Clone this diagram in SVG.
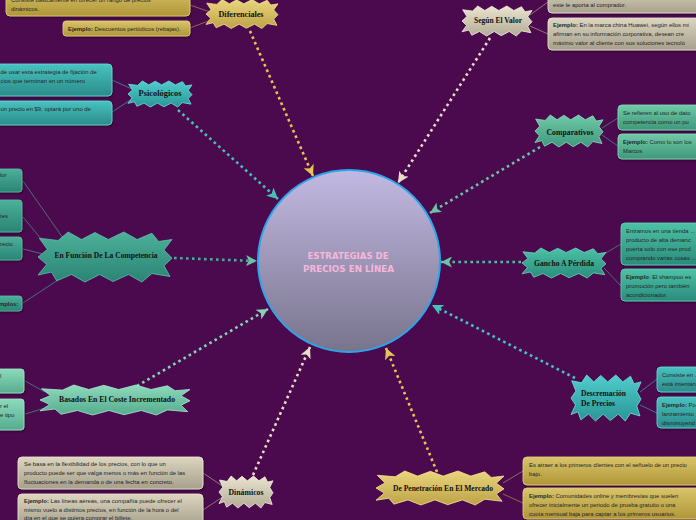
<svg xmlns="http://www.w3.org/2000/svg" width="696" height="520" viewBox="0 0 696 520">
<style>
.t{font-family:"Liberation Sans",Arial,sans-serif;font-size:5.9px;fill:#262626}
.b{font-weight:bold}
.nt{font-family:"Liberation Serif","Times New Roman",serif;font-weight:bold;font-size:7.6px;fill:#111;text-anchor:middle}
.ct{font-family:"DejaVu Sans",sans-serif;font-weight:bold;font-size:9.5px;fill:#f7b6da;text-anchor:middle}
.dot{fill:none;stroke-width:2.6;stroke-dasharray:2.6 3.4}
.ln{fill:none;stroke-width:0.8;opacity:0.8}
.box{stroke-width:0.8;filter:url(#sh)}
</style>
<defs>
<filter id="sh" x="-10%" y="-20%" width="120%" height="150%"><feDropShadow dx="0.8" dy="1.2" stdDeviation="0.8" flood-color="#000" flood-opacity="0.45"/></filter>
<path id="star" vector-effect="non-scaling-stroke" stroke-width="0.8" d="M-1,0 L-0.86,-0.3 L-0.98,-0.75 L-0.7,-0.66 L-0.55,-1 L-0.35,-0.7 L-0.15,-0.98 L0.05,-0.7 L0.28,-1 L0.48,-0.7 L0.7,-0.95 L0.8,-0.62 L1,-0.7 L0.88,-0.28 L1,0.05 L0.88,0.35 L0.97,0.78 L0.7,0.66 L0.55,1 L0.35,0.7 L0.12,0.98 L-0.08,0.7 L-0.3,1 L-0.5,0.7 L-0.72,0.95 L-0.8,0.6 L-1,0.72 L-0.87,0.3 Z"/>
<linearGradient id="gCircle" x1="0" y1="0" x2="0" y2="1"><stop offset="0" stop-color="#c2b9e2"/><stop offset="1" stop-color="#78748c"/></linearGradient>
<linearGradient id="gGold" x1="0" y1="0" x2="0" y2="1"><stop offset="0" stop-color="#ead67c"/><stop offset="1" stop-color="#bea246"/></linearGradient>
<linearGradient id="gGoldB" x1="0" y1="0" x2="0" y2="1"><stop offset="0" stop-color="#d8c46a"/><stop offset="1" stop-color="#b09638"/></linearGradient>
<linearGradient id="gBeige" x1="0" y1="0" x2="0" y2="1"><stop offset="0" stop-color="#ebe5d0"/><stop offset="1" stop-color="#b2ac96"/></linearGradient>
<linearGradient id="gBeigeB" x1="0" y1="0" x2="0" y2="1"><stop offset="0" stop-color="#dcd6c0"/><stop offset="1" stop-color="#a6a08c"/></linearGradient>
<linearGradient id="gTeal" x1="0" y1="0" x2="0" y2="1"><stop offset="0" stop-color="#50cccc"/><stop offset="1" stop-color="#2a9696"/></linearGradient>
<linearGradient id="gTealB" x1="0" y1="0" x2="0" y2="1"><stop offset="0" stop-color="#48c2c0"/><stop offset="1" stop-color="#2a8c8a"/></linearGradient>
<linearGradient id="gMint" x1="0" y1="0" x2="0" y2="1"><stop offset="0" stop-color="#70caa8"/><stop offset="1" stop-color="#3e987a"/></linearGradient>
<linearGradient id="gSea" x1="0" y1="0" x2="0" y2="1"><stop offset="0" stop-color="#4cb09a"/><stop offset="1" stop-color="#2a8474"/></linearGradient>
<linearGradient id="gGancho" x1="0" y1="0" x2="0" y2="1"><stop offset="0" stop-color="#4cc2a6"/><stop offset="1" stop-color="#2a8c7c"/></linearGradient>
<linearGradient id="gLight" x1="0" y1="0" x2="0" y2="1"><stop offset="0" stop-color="#8cdabc"/><stop offset="1" stop-color="#56ac8e"/></linearGradient>
<marker id="aGold" viewBox="0 0 10 10" refX="10" refY="5" markerWidth="11" markerHeight="11" markerUnits="userSpaceOnUse" orient="auto"><path d="M0,0 L10,5 L0,10 L2.5,5 Z" fill="#e2c652"/></marker>
<marker id="aBeige" viewBox="0 0 10 10" refX="10" refY="5" markerWidth="11" markerHeight="11" markerUnits="userSpaceOnUse" orient="auto"><path d="M0,0 L10,5 L0,10 L2.5,5 Z" fill="#e6dec6"/></marker>
<marker id="aTeal" viewBox="0 0 10 10" refX="10" refY="5" markerWidth="11" markerHeight="11" markerUnits="userSpaceOnUse" orient="auto"><path d="M0,0 L10,5 L0,10 L2.5,5 Z" fill="#46c2b6"/></marker>
<marker id="aMint" viewBox="0 0 10 10" refX="10" refY="5" markerWidth="11" markerHeight="11" markerUnits="userSpaceOnUse" orient="auto"><path d="M0,0 L10,5 L0,10 L2.5,5 Z" fill="#68c4a4"/></marker>
<marker id="aLight" viewBox="0 0 10 10" refX="10" refY="5" markerWidth="11" markerHeight="11" markerUnits="userSpaceOnUse" orient="auto"><path d="M0,0 L10,5 L0,10 L2.5,5 Z" fill="#84d4b4"/></marker>
</defs>
<rect width="696" height="520" fill="#4c0a4e"/>

<g id="connectors">
<line class="dot" x1="250" y1="31" x2="313" y2="176" stroke="#e2c652" marker-end="url(#aGold)"/>
<line class="dot" x1="490" y1="38" x2="398" y2="183" stroke="#e6dec6" marker-end="url(#aBeige)"/>
<line class="dot" x1="178" y1="110" x2="278" y2="199" stroke="#46c2b6" marker-end="url(#aTeal)"/>
<line class="dot" x1="540" y1="147" x2="430" y2="213" stroke="#68c4a4" marker-end="url(#aMint)"/>
<line class="dot" x1="174" y1="258" x2="257" y2="261" stroke="#40ae98" marker-end="url(#aMint)"/>
<line class="dot" x1="521" y1="262" x2="441" y2="262" stroke="#46c0a6" marker-end="url(#aMint)"/>
<line class="dot" x1="137" y1="386" x2="268" y2="309" stroke="#84d4b4" marker-end="url(#aLight)"/>
<line class="dot" x1="575" y1="378" x2="432" y2="305" stroke="#46c2c2" marker-end="url(#aTeal)"/>
<line class="dot" x1="253" y1="475" x2="310" y2="347" stroke="#e6dec6" marker-end="url(#aBeige)"/>
<line class="dot" x1="437" y1="472" x2="386" y2="348" stroke="#e2c652" marker-end="url(#aGold)"/>
<g stroke="#b8a050">
<line class="ln" x1="190" y1="5" x2="213" y2="13"/><line class="ln" x1="190" y1="28" x2="211" y2="20"/>
<line class="ln" x1="503" y1="483" x2="523" y2="471"/><line class="ln" x1="503" y1="494" x2="523" y2="503"/>
</g>
<g stroke="#b8b09a">
<line class="ln" x1="530" y1="15" x2="548" y2="2"/><line class="ln" x1="530" y1="26" x2="548" y2="34"/>
<line class="ln" x1="203" y1="473" x2="224" y2="487"/><line class="ln" x1="203" y1="510" x2="224" y2="496"/>
</g>
<g stroke="#48a8a8">
<line class="ln" x1="112" y1="80" x2="134" y2="90"/><line class="ln" x1="112" y1="112" x2="135" y2="97"/>
<line class="ln" x1="640" y1="392" x2="657" y2="379"/><line class="ln" x1="640" y1="405" x2="657" y2="413"/>
</g>
<g stroke="#4aa48c">
<line class="ln" x1="602" y1="128" x2="618" y2="118"/><line class="ln" x1="602" y1="135" x2="618" y2="146"/>
<line class="ln" x1="23" y1="181" x2="63" y2="238"/><line class="ln" x1="23" y1="217" x2="42" y2="240"/>
<line class="ln" x1="23" y1="249" x2="43" y2="254"/><line class="ln" x1="23" y1="303" x2="64" y2="276"/>
<line class="ln" x1="604" y1="254" x2="621" y2="244"/><line class="ln" x1="604" y1="268" x2="621" y2="286"/>
<line class="ln" x1="25" y1="381" x2="45" y2="392"/><line class="ln" x1="25" y1="414" x2="52" y2="406"/>
</g>
</g>

<g id="central">
<circle cx="349" cy="261" r="91" fill="url(#gCircle)" stroke="#2aa6ec" stroke-width="2"/>
<text class="ct" x="348" y="258.5" textLength="81" lengthAdjust="spacingAndGlyphs">ESTRATEGIAS DE</text>
<text class="ct" x="348.5" y="271.5" textLength="91" lengthAdjust="spacingAndGlyphs">PRECIOS EN LÍNEA</text>
</g>

<g id="diferenciales">
<rect class="box" x="6" y="-12" width="184" height="28" rx="4" fill="url(#gGoldB)" stroke="#e2d284"/>
<text class="t" x="11" y="2">Consiste básicamente en ofrecer un rango de precios</text>
<text class="t" x="11" y="10.5">dinámicos.</text>
<rect class="box" x="63" y="21" width="127" height="15" rx="3" fill="url(#gGoldB)" stroke="#e2d284"/>
<text class="t" x="68" y="31"><tspan class="b">Ejemplo:</tspan> Descuentos periódicos (rebajas).</text>
<use href="#star" transform="translate(242 14) scale(36 14.5)" fill="url(#gGold)" stroke="#f2e296"/>
<text class="nt" x="241" y="16.5" textLength="45" lengthAdjust="spacingAndGlyphs">Diferenciales</text>
</g>

<g id="segun-valor">
<rect class="box" x="548" y="-12" width="160" height="25" rx="4" fill="url(#gBeigeB)" stroke="#ece6d2"/>
<text class="t" x="553" y="7">este le aporta al comprador.</text>
<rect class="box" x="548" y="18" width="160" height="32" rx="4" fill="url(#gBeigeB)" stroke="#ece6d2"/>
<text class="t" x="553" y="27"><tspan class="b">Ejemplo:</tspan> En la marca china Huawei, según ellos mi</text>
<text class="t" x="553" y="36">afirman en su información corporativa, desean cre</text>
<text class="t" x="553" y="45">máximo valor al cliente con sus soluciones tecnoló</text>
<use href="#star" transform="translate(497 21) scale(35 15)" fill="url(#gBeige)" stroke="#f4f0e2"/>
<text class="nt" x="498" y="22.5" textLength="48" lengthAdjust="spacingAndGlyphs">Según El Valor</text>
</g>

<g id="psicologicos">
<rect class="box" x="-10" y="64" width="122" height="32" rx="4" fill="url(#gTealB)" stroke="#6adada"/>
<text class="t" x="0.5" y="74">de usar esta estrategia de fijación de</text>
<text class="t" x="0.5" y="83">cios que terminan en un número</text>
<rect class="box" x="-10" y="101" width="122" height="24" rx="4" fill="url(#gTealB)" stroke="#6adada"/>
<text class="t" x="0.5" y="111">un precio en $9, optará por uno de</text>
<use href="#star" transform="translate(160 94) scale(32 13)" fill="url(#gTeal)" stroke="#72e2e2"/>
<text class="nt" x="160" y="95.5" textLength="43" lengthAdjust="spacingAndGlyphs">Psicológicos</text>
</g>

<g id="comparativos">
<rect class="box" x="618" y="105" width="90" height="25" rx="4" fill="url(#gMint)" stroke="#88dcbc"/>
<text class="t" x="623" y="115">Se refieren al uso de dato</text>
<text class="t" x="623" y="124">competencia como un pu</text>
<rect class="box" x="618" y="134" width="90" height="25" rx="4" fill="url(#gMint)" stroke="#88dcbc"/>
<text class="t" x="623" y="144"><tspan class="b">Ejemplo:</tspan> Como lo son los</text>
<text class="t" x="623" y="153">Marcos</text>
<use href="#star" transform="translate(569 131) scale(34 16)" fill="url(#gMint)" stroke="#8ee0c0"/>
<text class="nt" x="570" y="134.5" textLength="47" lengthAdjust="spacingAndGlyphs">Comparativos</text>
</g>

<g id="competencia">
<rect class="box" x="-10" y="169" width="32" height="23" rx="3" fill="url(#gSea)" stroke="#5cbca6"/>
<text class="t" x="0" y="177">lor</text>
<rect class="box" x="-10" y="200" width="32" height="32" rx="3" fill="url(#gSea)" stroke="#5cbca6"/>
<text class="t" x="0" y="218">tes</text>
<rect class="box" x="-10" y="237" width="32" height="23" rx="3" fill="url(#gSea)" stroke="#5cbca6"/>
<text class="t" x="0" y="246">recio</text>
<rect class="box" x="-10" y="296" width="32" height="15" rx="3" fill="url(#gSea)" stroke="#5cbca6"/>
<text class="t b" x="-1" y="306">mplos:</text>
<use href="#star" transform="translate(105 257) scale(67 25)" fill="url(#gSea)" stroke="#5ec2aa"/>
<text class="nt" x="106" y="257.5" textLength="103" lengthAdjust="spacingAndGlyphs">En Función De La Competencia</text>
</g>

<g id="gancho">
<rect class="box" x="621" y="223" width="90" height="42" rx="4" fill="url(#gGancho)" stroke="#66d2b8"/>
<text class="t" x="626" y="233">Entramos en una tienda ...</text>
<text class="t" x="626" y="242">producto de alta demanc</text>
<text class="t" x="626" y="251">puerta solo con ese prod</text>
<text class="t" x="626" y="260">comprando varias cosas ...</text>
<rect class="box" x="621" y="269" width="90" height="32" rx="4" fill="url(#gGancho)" stroke="#66d2b8"/>
<text class="t" x="626" y="279"><tspan class="b">Ejemplo</tspan>: El shampoo  es</text>
<text class="t" x="626" y="288">promoción pero también</text>
<text class="t" x="626" y="297">acondicionador.</text>
<use href="#star" transform="translate(564 263) scale(42 15)" fill="url(#gGancho)" stroke="#6ad6bc"/>
<text class="nt" x="564" y="265.5" textLength="60" lengthAdjust="spacingAndGlyphs">Gancho A Pérdida</text>
</g>

<g id="coste-incrementado">
<rect class="box" x="-10" y="369" width="34" height="24" rx="3" fill="url(#gLight)" stroke="#9ee6c8"/>
<text class="t" x="0" y="378">l</text>
<rect class="box" x="-10" y="399" width="34" height="31" rx="3" fill="url(#gLight)" stroke="#9ee6c8"/>
<text class="t" x="0" y="408">r el</text>
<text class="t" x="0" y="417">e tipo</text>
<use href="#star" transform="translate(115 400) scale(75 15)" fill="url(#gLight)" stroke="#a4eacc"/>
<text class="nt" x="117" y="401.5" textLength="116" lengthAdjust="spacingAndGlyphs">Basados En El Coste Incrementado</text>
</g>

<g id="descremacion">
<rect class="box" x="657" y="367" width="50" height="25" rx="4" fill="url(#gTealB)" stroke="#6adada"/>
<text class="t" x="662" y="377">Consiste en ...</text>
<text class="t" x="662" y="386">está intentan</text>
<rect class="box" x="657" y="397" width="50" height="31" rx="4" fill="url(#gTealB)" stroke="#6adada"/>
<text class="t" x="662" y="407"><tspan class="b">Ejemplo:</tspan> Po</text>
<text class="t" x="662" y="416">lanzamiento</text>
<text class="t" x="662" y="425">disminuyend</text>
<use href="#star" transform="translate(606 398) scale(35 23)" fill="url(#gTeal)" stroke="#72e2e2"/>
<text class="nt" x="581" y="395.5" style="text-anchor:start" textLength="45" lengthAdjust="spacingAndGlyphs">Descremación</text>
<text class="nt" x="581" y="405.5" style="text-anchor:start" textLength="34" lengthAdjust="spacingAndGlyphs">De Precios</text>
</g>

<g id="dinamicos">
<rect class="box" x="18" y="457" width="185" height="32" rx="4" fill="url(#gBeigeB)" stroke="#ece6d2"/>
<text class="t" x="24" y="466">Se basa en la flexibilidad de los precios, con lo que un</text>
<text class="t" x="24" y="475">producto puede ser que valga menos o más en función de las</text>
<text class="t" x="24" y="483.5">fluctuaciones en la demanda o de una fecha en concreto.</text>
<rect class="box" x="18" y="494" width="185" height="32" rx="4" fill="url(#gBeigeB)" stroke="#ece6d2"/>
<text class="t" x="24" y="503"><tspan class="b">Ejemplo:</tspan> Las líneas aéreas, una compañía puede ofrecer el</text>
<text class="t" x="24" y="511.5">mismo vuelo a distintos precios, en función de la hora o del</text>
<text class="t" x="24" y="520">día en el que se quiera comprar el billete.</text>
<use href="#star" transform="translate(246 492) scale(27 16)" fill="url(#gBeige)" stroke="#f4f0e2"/>
<text class="nt" x="246" y="494.5" textLength="35" lengthAdjust="spacingAndGlyphs">Dinámicos</text>
</g>

<g id="penetracion">
<rect class="box" x="523" y="457" width="180" height="28" rx="4" fill="url(#gGoldB)" stroke="#e2d284"/>
<text class="t" x="529" y="467">Es atraer a los primeros clientes con el señuelo de un precio</text>
<text class="t" x="529" y="476">bajo.</text>
<rect class="box" x="523" y="488" width="180" height="31" rx="4" fill="url(#gGoldB)" stroke="#e2d284"/>
<text class="t" x="529" y="497.5"><tspan class="b">Ejemplo:</tspan> Comunidades online y membresías que suelen</text>
<text class="t" x="529" y="506.5">ofrecer inicialmente un periodo de prueba gratuito o una</text>
<text class="t" x="529" y="515.5">cuota mensual baja para captar a los primeros usuarios.</text>
<use href="#star" transform="translate(440 488) scale(64 17)" fill="url(#gGold)" stroke="#f2e296"/>
<text class="nt" x="443" y="490.5" textLength="100" lengthAdjust="spacingAndGlyphs">De Penetración En El Mercado</text>
</g>
</svg>
